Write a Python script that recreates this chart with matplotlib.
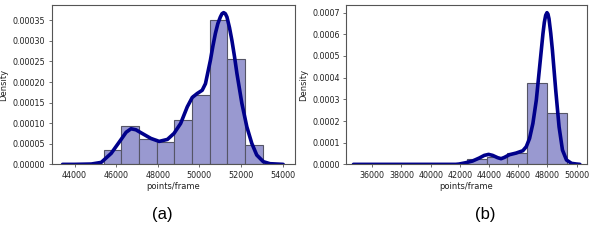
import matplotlib

matplotlib.use("Agg")

from matplotlib import pyplot as plt  # noqa: E402

# panel (a): histogram bins and KDE curve
a_bin_left = 45394
a_bin_width = 850
a_heights = [3.48e-5, 9.21e-5, 6.14e-5, 5.33e-5, 1.083e-4, 1.681e-4, 3.50e-4, 2.57e-4, 4.77e-5]
a_kde_x = [43424, 44000, 44807, 45284, 45761, 46239, 46480, 46716, 46950, 47193,
           47670, 48067, 48465, 48782, 49101, 49420, 49659, 49898, 50137, 50294,
           50532, 50650, 50771, 50890, 51010, 51090, 51169, 51250, 51327, 51450,
           51566, 51690, 51806, 52045, 52283, 52522, 52760, 53077, 53395, 54030]
a_kde_y = [0, 0, 8e-7, 4.8e-6, 2.67e-5, 6.06e-5, 7.8e-5, 8.65e-5, 8.4e-5, 7.68e-5,
           6.30e-5, 5.58e-5, 6.06e-5, 7.52e-5, 9.94e-5, 1.398e-4, 1.625e-4, 1.722e-4,
           1.80e-4, 1.96e-4, 2.53e-4, 2.87e-4, 3.18e-4, 3.42e-4, 3.58e-4, 3.66e-4,
           3.686e-4, 3.66e-4, 3.58e-4, 3.32e-4, 3.01e-4, 2.62e-4, 2.21e-4, 1.48e-4,
           9.13e-5, 5.09e-5, 2.26e-5, 6.5e-6, 1.6e-6, 0]

# panel (b)
b_bin_left = 42483
b_bin_width = 1379
b_heights = [2.46e-5, 3.3e-5, 5.4e-5, 3.75e-4, 2.39e-4]
b_kde_x = [34710, 41724, 41950, 42414, 42869, 43331, 43676, 43972, 44248, 44593,
           44828, 45055, 45400, 45862, 46317, 46552, 46779, 47007, 47241, 47469,
           47697, 47790, 47883, 47972, 48040, 48110, 48230, 48345, 48572, 48800,
           49034, 49310, 49655, 50000, 50228]
b_kde_y = [0, 0, 1.5e-6, 7.7e-6, 1.54e-5, 2.92e-5, 4.14e-5, 4.6e-5, 4.14e-5, 3.07e-5,
           2.61e-5, 3.22e-5, 4.45e-5, 5.22e-5, 6.29e-5, 8.14e-5, 1.197e-4, 1.888e-4,
           2.963e-4, 4.498e-4, 6.033e-4, 6.55e-4, 6.877e-4, 7.0e-4, 6.93e-4, 6.72e-4,
           6.05e-4, 5.265e-4, 3.42e-4, 1.735e-4, 6.6e-5, 2.0e-5, 4.6e-6, 1.5e-6, 0]

a_xticks = [44000, 46000, 48000, 50000, 52000, 54000]
a_yticks = [0, 0.00005, 0.0001, 0.00015, 0.0002, 0.00025, 0.0003, 0.00035]
b_xticks = [36000, 38000, 40000, 42000, 44000, 46000, 48000, 50000]
b_yticks = [0, 0.0001, 0.0002, 0.0003, 0.0004, 0.0005, 0.0006, 0.0007]

BAR_COLOR = "#9999d0"
LINE_COLOR = "darkblue"
SPINE_COLOR = "#555555"


def draw_panel(axis, left, width, heights, kde_x, kde_y, xticks, yticks, yfmt, xlim):
    lefts = [left + i * width for i in range(len(heights))]
    axis.bar(lefts, heights, width=width, align="edge", color=BAR_COLOR,
             edgecolor="#555566", linewidth=0.8)
    axis.plot(kde_x, kde_y, color=LINE_COLOR, linewidth=2.6,
              solid_capstyle="round", solid_joinstyle="round")
    axis.set_xticks(xticks)
    axis.set_yticks(yticks)
    axis.set_yticklabels([yfmt.format(v) for v in yticks])
    axis.set_xlim(*xlim)
    axis.set_ylim(0, max(kde_y) * 1.05)
    axis.set_xlabel("points/frame", fontsize=6, color="#222222", labelpad=2)
    axis.set_ylabel("Density", fontsize=6, color="#222222", labelpad=3)
    axis.tick_params(labelsize=5.8, length=2.5, width=0.6, pad=2,
                     colors=SPINE_COLOR, labelcolor="#222222")
    for spine in axis.spines.values():
        spine.set_color(SPINE_COLOR)
        spine.set_linewidth(0.8)


figure = plt.figure(figsize=(5.98, 2.41), dpi=100)
axis_a = figure.add_axes([0.0864, 0.318, 0.4066, 0.661])
axis_b = figure.add_axes([0.5786, 0.318, 0.4024, 0.661])

draw_panel(axis_a, a_bin_left, a_bin_width, a_heights, a_kde_x, a_kde_y,
           a_xticks, a_yticks, "{:.5f}", (42900, 54590))
draw_panel(axis_b, b_bin_left, b_bin_width, b_heights, b_kde_x, b_kde_y,
           b_xticks, b_yticks, "{:.4f}", (34200, 50690))

figure.text(0.2717, 0.108, "(a)", ha="center", va="center", fontsize=12,
            family="Liberation Sans")
figure.text(0.8119, 0.108, "(b)", ha="center", va="center", fontsize=12,
            family="Liberation Sans")

figure.savefig("out.png", dpi=100)
